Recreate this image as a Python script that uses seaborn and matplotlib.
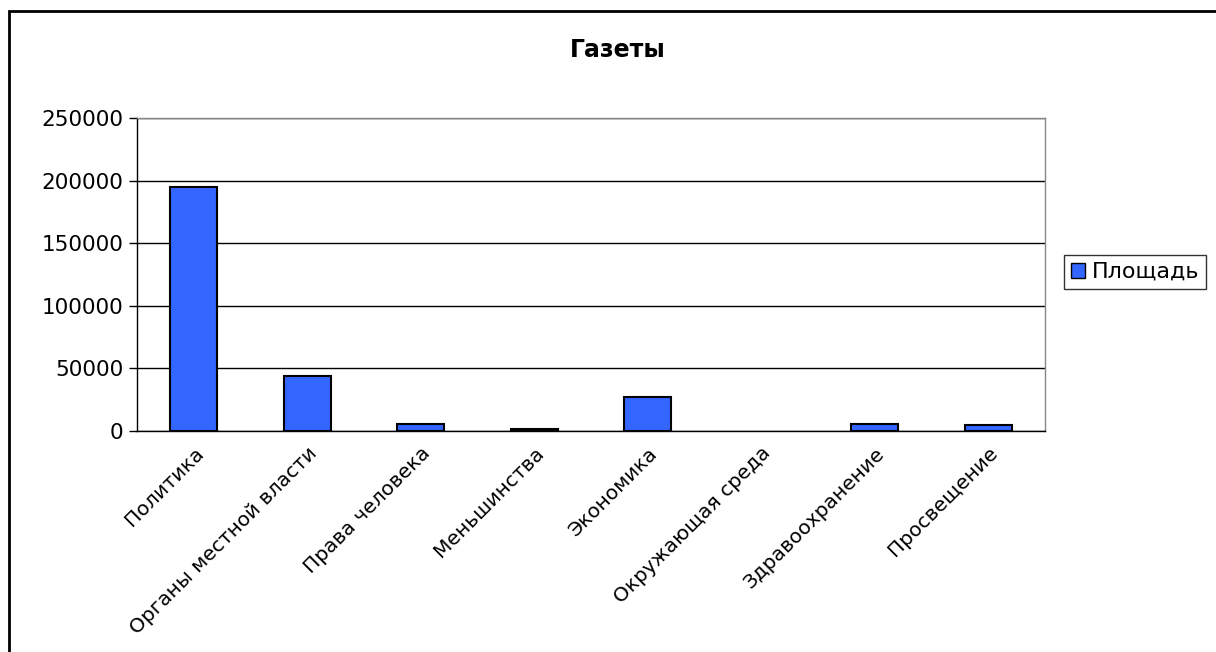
import matplotlib
matplotlib.use("Agg")
import matplotlib.pyplot as plt
import seaborn as sns
import numpy as np
from matplotlib.patches import Rectangle, Patch

# Data
categories = ["Политика", "Органы местной власти", "Права человека", "Меньшинства",
              "Экономика", "Окружающая среда", "Здравоохранение", "Просвещение"]
area = [195000, 44000, 5500, 1200, 27000, 0, 5500, 4500]
series_name = "Площадь"
title = "Газеты"

sns.set_style("white", {"text.color": "black", "xtick.color": "black", "ytick.color": "black"})
plt.rcParams['font.family'] = ['DejaVu Sans']

fig = plt.figure(figsize=(12.16, 6.52), dpi=100)
ax = fig.add_axes([137 / 1216, 1 - 431 / 652, (1045 - 137) / 1216, (431 - 118) / 652])

bar_color = "#3366FF"
sns.barplot(x=categories, y=area, color=bar_color, width=0.41,
            edgecolor="black", linewidth=1.5, saturation=1, ax=ax)
# empty categories show no outline
for p in ax.patches:
    if p.get_height() == 0:
        p.set_linewidth(0)

ax.set_ylim(0, 250000)
ax.set_xlim(-0.5, len(categories) - 0.5)
ax.set_yticks(np.arange(0, 250001, 50000))
ax.yaxis.grid(True, color="black", linewidth=1)
ax.set_axisbelow(True)

# category labels centered, tick marks at category boundaries
ax.set_xticks(range(len(categories)))
ax.set_xticklabels(categories, rotation=45, ha="right", rotation_mode="anchor", fontsize=14.5)
ax.set_xticks(np.arange(-0.5, len(categories), 1), minor=True)
ax.tick_params(axis="x", which="major", length=0, pad=9, labelcolor="black")
ax.tick_params(axis="x", which="minor", length=6, width=1, direction="out", color="black")
ax.tick_params(axis="y", length=6, width=1, direction="out", left=True, color="black",
               labelsize=15.5, pad=4, labelcolor="black")

for side in ["left", "bottom"]:
    ax.spines[side].set_color("black")
    ax.spines[side].set_linewidth(1)
for side in ["top", "right"]:
    ax.spines[side].set_color("#888888")
    ax.spines[side].set_linewidth(1)
ax.set_xlabel("")
ax.set_ylabel("")

fig.text(618 / 1216, 1 - 50 / 652, title, ha="center", va="center",
         fontsize=17, fontweight="bold", color="black")

handle = Patch(facecolor=bar_color, edgecolor="black", linewidth=1)
leg = fig.legend([handle], [series_name], loc="center left",
                 bbox_to_anchor=(1064 / 1216, 1 - 272 / 652), fontsize=16,
                 frameon=True, fancybox=False, edgecolor="black", handlelength=0.65,
                 handleheight=0.65, handletextpad=0.3, borderpad=0.3, borderaxespad=0)
for t in leg.get_texts():
    t.set_color("black")

# outer chart-area frame
fig.patches.append(Rectangle((9 / 1216, -0.01), 1.2, 1 - 11 / 652 + 0.01,
                             transform=fig.transFigure, fill=False,
                             edgecolor="black", linewidth=2))

fig.savefig("out.png", dpi=100)
